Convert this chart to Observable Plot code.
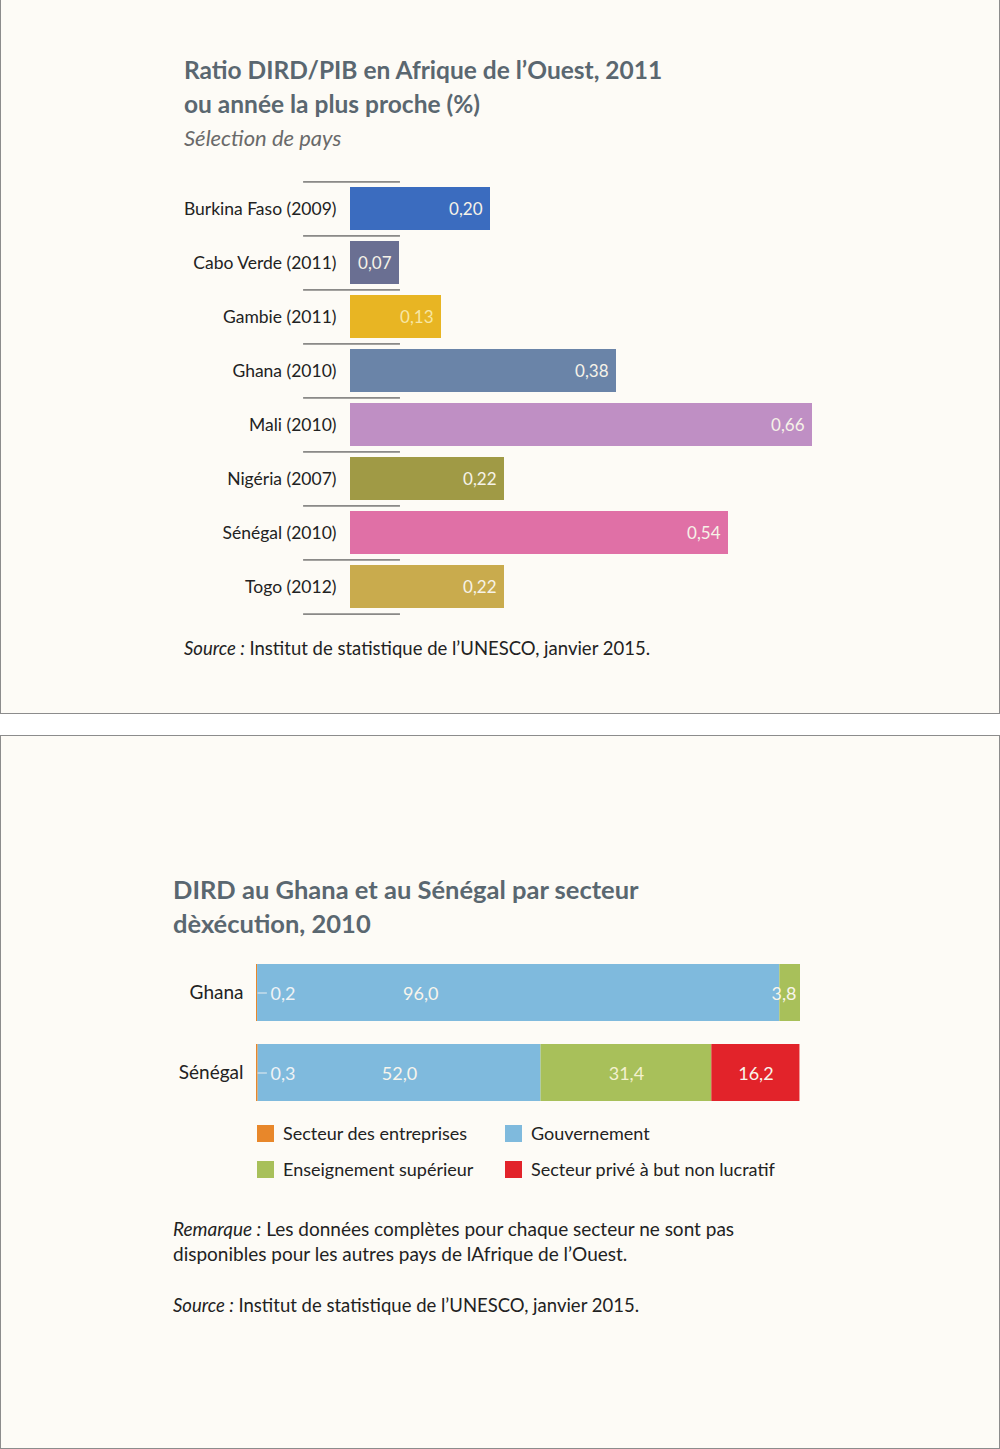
<!DOCTYPE html>
<html>
<head>
<meta charset="utf-8">
<script src="https://cdn.jsdelivr.net/npm/d3@7"></script>
<script src="https://cdn.jsdelivr.net/npm/@observablehq/plot@0.6"></script>
<style>
  html, body { margin: 0; padding: 0; background: #ffffff; }
  body { width: 1000px; height: 1449px; position: relative; font-family: Lato, "Noto Sans", sans-serif; color: #222; }
  .panel { position: absolute; left: 0; width: 998px; background: #fdfbf6; border: 1px solid #8c8c8c; }
  #p1 { top: -1px; height: 713px; }
  #p2 { top: 735px; height: 712px; }
  .abs { position: absolute; }
  .title { font-weight: 700; font-size: 24.5px; color: #5a6770; line-height: 34px; white-space: nowrap; }
  .sub { font-style: italic; font-size: 22px; color: #6a6a6a; white-space: nowrap; }
  .note { font-size: 18.5px; color: #222; line-height: 25px; white-space: nowrap; }
  .legend-item { position: absolute; font-size: 18px; color: #222; white-space: nowrap; }
  .legend-item span.sw { position: absolute; left: 0; top: 3px; width: 17px; height: 17px; }
  .legend-item span.tx { position: absolute; left: 26px; top: 0; }
</style>
</head>
<body>
<div class="panel" id="p1"></div>
<div class="panel" id="p2"></div>

<div class="abs title" style="left:184px; top:53px;">Ratio DIRD/PIB en Afrique de l’Ouest, 2011<br>ou année la plus proche (%)</div>
<div class="abs sub" style="left:184px; top:124px;">Sélection de pays</div>
<div id="chart1" class="abs" style="left:0; top:170px;"></div>
<div class="abs note" style="left:184px; top:636px;"><i>Source :</i> Institut de statistique de l’UNESCO, janvier 2015.</div>

<div class="abs title" style="left:173px; top:872px; font-size:25.5px;">DIRD au Ghana et au Sénégal par secteur<br>dèxécution, 2010</div>
<div id="chart2" class="abs" style="left:0; top:940px;"></div>
<div id="legend" class="abs" style="left:0; top:1120px; width:1000px; height:80px;"></div>
<div class="abs note" style="left:173px; top:1216px; font-size:19px;"><i>Remarque :</i> Les données complètes pour chaque secteur ne sont pas<br>disponibles pour les autres pays de lAfrique de l’Ouest.</div>
<div class="abs note" style="left:173px; top:1293px;"><i>Source :</i> Institut de statistique de l’UNESCO, janvier 2015.</div>

<script>
// ---------- Data: chart 1 ----------
const countries = ["Burkina Faso", "Cabo Verde", "Gambie", "Ghana", "Mali", "Nigéria", "Sénégal", "Togo"];
const years = [2009, 2011, 2011, 2010, 2010, 2007, 2010, 2012];
const ratios = [0.20, 0.07, 0.13, 0.38, 0.66, 0.22, 0.54, 0.22];
const barColors = ["#3b6cbf", "#6a6f92", "#e8b523", "#6a84a8", "#bf8fc4", "#a09a45", "#e070a6", "#c9ab4d"];

// ---------- Data: chart 2 ----------
const sectorCountries = ["Ghana", "Sénégal"];
const sectors = ["Secteur des entreprises", "Gouvernement", "Enseignement supérieur", "Secteur privé à but non lucratif"];
const ghanaShares = [0.2, 96.0, 3.8, null];
const senegalShares = [0.3, 52.0, 31.4, 16.2];
const sectorColors = ["#e8872a", "#7fbadd", "#a8c05a", "#e2232a"];

const fmt = v => d3.format(".2f")(v).replace(".", ",");
const fmt1 = v => d3.format(".1f")(v).replace(".", ",");

// ---------- Chart 1 ----------
const labels = countries.map((c, i) => `${c} (${years[i]})`);
const rows1 = labels.map((l, i) => ({label: l, value: ratios[i]}));
const h1 = 460, mt1 = 11, mb1 = 16;
const step1 = (h1 - mt1 - mb1) / labels.length;
const rulesTop = labels.map(l => ({label: l, off: -step1 / 2}));
rulesTop.push({label: labels[labels.length - 1], off: step1 / 2});
const ruleStart = -0.067, ruleEnd = 0.0714;

const chart1 = Plot.plot({
  width: 1000, height: h1,
  marginLeft: 350, marginRight: 188, marginTop: mt1, marginBottom: mb1,
  style: {background: "transparent", fontFamily: "Lato, 'Noto Sans', sans-serif", fontSize: "17.5px", color: "#222"},
  x: {domain: [0, d3.max(ratios)], axis: null},
  y: {domain: labels, paddingInner: 0.2, paddingOuter: 0.1, label: null},
  color: {domain: labels, range: barColors},
  marks: [
    Plot.axisY({tickSize: 0, tickPadding: 14, label: null, fontSize: 17.5}),
    Plot.barX(rows1, {y: "label", x: "value", fill: "label"}),
    ...rulesTop.map(r => Plot.ruleY([r], {y: "label", dy: r.off, x1: () => ruleStart, x2: () => ruleEnd, stroke: "#333", strokeWidth: 1})),
    Plot.text(rows1, {y: "label", x: "value", text: d => fmt(d.value), textAnchor: "end", dx: -8, dy: 1,
      fill: d => d.label.startsWith("Gambie") ? "#f7e7a4" : "#f6f3e8", fontSize: 17})
  ]
});
document.getElementById("chart1").appendChild(chart1);

// ---------- Chart 2 ----------
const rows2 = [];
[ghanaShares, senegalShares].forEach((shares, ci) => {
  let acc = 0;
  shares.forEach((v, si) => {
    if (v == null) return;
    rows2.push({country: sectorCountries[ci], sector: sectors[si], si, value: v, x1: acc, x2: acc + v});
    acc += v;
  });
});
const first = rows2.filter(d => d.si === 0);
const mid = rows2.filter(d => d.si > 0 && d.value >= 8);
const small = rows2.filter(d => d.si > 0 && d.value < 8);

const chart2 = Plot.plot({
  width: 1000, height: 180,
  marginLeft: 256, marginRight: 200, marginTop: 12, marginBottom: 8,
  style: {background: "transparent", fontFamily: "Lato, 'Noto Sans', sans-serif", fontSize: "19px", color: "#222"},
  x: {domain: [0, 100], axis: null},
  y: {domain: sectorCountries, paddingInner: 0.2875, paddingOuter: 0.14375, label: null},
  color: {domain: sectors, range: sectorColors},
  marks: [
    Plot.axisY({tickSize: 0, tickPadding: 13, label: null, fontSize: 19}),
    Plot.barX(rows2, {y: "country", x1: "x1", x2: "x2", fill: "sector"}),
    Plot.ruleY(first, {y: "country", x1: d => d.x1 + 0.3, x2: d => d.x1 + 2, stroke: "#e9eef2", strokeWidth: 1}),
    Plot.text(first, {y: "country", x: "x1", dx: 14, dy: 1, text: d => fmt1(d.value), textAnchor: "start", fill: "#eef3f6", fontSize: 18}),
    Plot.text(mid, {y: "country", x: d => d.x1 + Math.min(d.value / 2, 30), dy: 1, text: d => fmt1(d.value), textAnchor: "middle",
      fill: d => d.si === 2 ? "#f4f1d0" : "#f8f5ec", fontSize: 18}),
    Plot.text(small, {y: "country", x: "x2", dx: -4, dy: 1, text: d => fmt1(d.value), textAnchor: "end", fill: "#f8f5ec", fontSize: 18})
  ]
});
document.getElementById("chart2").appendChild(chart2);

// ---------- Legend ----------
const legend = document.getElementById("legend");
const legendPos = [[257, 2], [505, 2], [257, 38], [505, 38]];
sectors.forEach((s, i) => {
  const item = document.createElement("div");
  item.className = "legend-item";
  item.style.left = legendPos[i][0] + "px";
  item.style.top = legendPos[i][1] + "px";
  item.innerHTML = `<span class="sw" style="background:${sectorColors[i]}"></span><span class="tx">${s}</span>`;
  legend.appendChild(item);
});
</script>
</body>
</html>
